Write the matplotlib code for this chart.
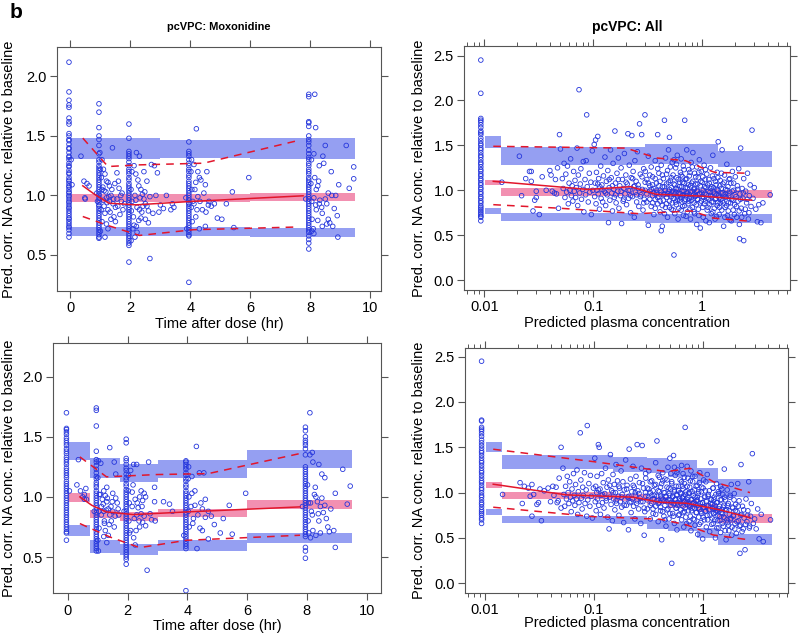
import numpy as np
import matplotlib.pyplot as plt
from matplotlib.ticker import LogLocator, NullFormatter

plt.rcParams['font.family'] = ['Liberation Sans', 'DejaVu Sans']

W, H = 798, 635
PT_COL = '#2536dc'
BAND_BLUE = '#959ff2'
BAND_PINK = '#f290b1'
RED = '#e2162c'
FRAME = '#555555'

# ---------------- top-left: pcVPC Moxonidine (time) ----------------
tl_col_x = [-0.05, 0.95, 1.95, 3.95, 7.95]
tl_col0 = [2.12, 1.87, 1.80, 1.76, 1.74, 1.65, 1.62, 1.60, 1.52, 1.50, 1.47, 1.46, 1.43, 1.40, 1.39,
           1.36, 1.33, 1.32, 1.30, 1.27, 1.25, 1.24, 1.21, 1.19, 1.18, 1.15, 1.13, 1.12, 1.10, 1.08,
           1.07, 1.05, 1.03, 1.02, 1.00, 0.99, 0.97, 0.95, 0.94, 0.92, 0.90, 0.89, 0.87, 0.85, 0.83,
           0.81, 0.80, 0.78, 0.76, 0.74, 0.73, 0.71, 0.68, 0.65]
tl_col1 = [1.77, 1.70, 1.57, 1.50, 1.47, 1.42, 1.35, 1.30, 1.28, 1.25, 1.23, 1.21, 1.19, 1.17, 1.15,
           1.13, 1.11, 1.09, 1.07, 1.05, 1.03, 1.01, 1.00, 0.98, 0.96, 0.94, 0.92, 0.91, 0.89, 0.87,
           0.85, 0.83, 0.81, 0.79, 0.77, 0.75, 0.73, 0.71, 0.69, 0.67, 0.65, 0.64]
tl_col2 = [1.60, 1.48, 1.37, 1.35, 1.33, 1.31, 1.28, 1.25, 1.22, 1.20, 1.18, 1.15, 1.13, 1.10, 1.08,
           1.06, 1.04, 1.02, 1.00, 0.98, 0.96, 0.94, 0.92, 0.90, 0.88, 0.86, 0.84, 0.82, 0.80, 0.78,
           0.76, 0.74, 0.72, 0.70, 0.68, 0.66, 0.64, 0.62, 0.60, 0.58, 0.44]
tl_col4 = [1.45, 1.37, 1.35, 1.33, 1.30, 1.27, 1.25, 1.22, 1.20, 1.17, 1.15, 1.12, 1.10, 1.08, 1.06,
           1.04, 1.02, 1.00, 0.98, 0.96, 0.94, 0.93, 0.91, 0.89, 0.87, 0.85, 0.83, 0.81, 0.79, 0.77,
           0.75, 0.73, 0.71, 0.69, 0.67, 0.66, 0.27]
tl_col8 = [1.85, 1.83, 1.62, 1.61, 1.58, 1.50, 1.47, 1.45, 1.42, 1.38, 1.35, 1.32, 1.30, 1.27, 1.25,
           1.22, 1.20, 1.18, 1.15, 1.13, 1.11, 1.09, 1.07, 1.05, 1.03, 1.01, 0.99, 0.97, 0.95, 0.93,
           0.91, 0.89, 0.87, 0.85, 0.83, 0.81, 0.79, 0.77, 0.75, 0.73, 0.71, 0.69, 0.66, 0.63, 0.60, 0.55]
tl_scatter = [
    (0.02, 1.30), (0.05, 1.09), (0.35, 1.33), (0.45, 1.12), (0.55, 1.10), (0.48, 0.98), (0.49, 0.97),
    (0.62, 1.08), (0.88, 1.02), (0.90, 0.95), (1.00, 1.22), (1.02, 0.88), (1.03, 1.15), (1.05, 0.78),
    (1.00, 0.70), (1.05, 1.05), (0.98, 1.36), (1.05, 1.30), (1.10, 1.22), (1.15, 1.18), (1.20, 1.12),
    (1.25, 1.11), (1.30, 1.08), (1.35, 1.00), (1.42, 0.93), (1.50, 0.90), (1.45, 0.82), (1.50, 0.78),
    (1.55, 1.19), (1.60, 1.12), (1.70, 0.95), (1.75, 0.88), (1.65, 0.84), (1.40, 1.40), (1.20, 0.76),
    (1.15, 0.65), (1.30, 0.95), (1.25, 0.88), (1.55, 0.97), (1.62, 1.06), (1.72, 1.02), (1.80, 0.93),
    (1.10, 0.96), (1.15, 0.85), (1.20, 0.98), (1.35, 0.80), (1.25, 0.72), (1.12, 1.04),
    (2.02, 1.05), (2.05, 0.95), (2.03, 0.87), (2.05, 1.20), (2.08, 0.72), (2.02, 0.62),
    (2.12, 1.25), (2.20, 1.36), (2.30, 1.33), (2.25, 1.13), (2.35, 1.05), (2.40, 1.01), (2.45, 0.97),
    (2.50, 0.93), (2.30, 0.88), (2.35, 0.81), (2.20, 0.74), (2.15, 0.65), (2.60, 0.87), (2.55, 1.12),
    (2.70, 1.26), (2.80, 1.25), (2.90, 1.19), (2.85, 1.00), (2.95, 0.86), (2.75, 0.85), (2.65, 0.47),
    (2.22, 0.69), (3.20, 1.00), (3.40, 0.93), (3.45, 0.90), (3.10, 0.89), (2.50, 0.80), (2.60, 0.77),
    (3.00, 0.92), (2.10, 0.82), (2.12, 0.75), (2.42, 0.91), (2.18, 0.96), (2.28, 1.08), (2.65, 0.99),
    (3.35, 0.88), (4.02, 1.20), (4.05, 1.05), (4.03, 0.90), (4.06, 0.78), (4.04, 1.30), (4.08, 0.95),
    (3.88, 0.72), (3.85, 0.98), (4.12, 1.26), (4.20, 1.56), (4.30, 1.15), (4.35, 1.13), (4.50, 1.09),
    (4.55, 1.20), (4.60, 0.92), (4.70, 0.91), (4.80, 0.93), (4.90, 0.81), (5.05, 0.80), (5.20, 0.93),
    (5.40, 1.03), (5.45, 0.73), (5.95, 1.15), (4.50, 0.74), (4.30, 0.72), (4.15, 1.05), (4.25, 0.99),
    (4.40, 0.88), (4.62, 0.95), (4.52, 0.86), (4.32, 0.95), (4.22, 0.88), (4.18, 1.11),
    (8.02, 1.10), (8.05, 0.95), (8.04, 1.30), (8.06, 0.80), (7.85, 0.97), (8.05, 0.70),
    (8.12, 1.35), (8.18, 1.57), (8.15, 1.85), (8.30, 1.25), (8.42, 1.33), (8.45, 1.27), (8.50, 1.42),
    (8.60, 1.02), (8.70, 1.20), (8.50, 0.97), (8.55, 0.93), (8.60, 0.80), (8.80, 0.89), (8.90, 0.83),
    (8.95, 1.09), (9.20, 1.42), (9.45, 1.24), (9.45, 1.14), (9.30, 1.06), (8.92, 0.65), (8.75, 0.74),
    (8.40, 0.85), (8.30, 0.93), (8.20, 1.05), (8.40, 0.74), (8.55, 0.76), (8.65, 0.77), (8.72, 1.00),
    (8.20, 0.88), (8.25, 0.79), (8.12, 0.68), (8.10, 0.72), (8.85, 1.00), (8.32, 0.96), (8.25, 1.08),
    (8.15, 1.15),
    (1.08, 1.07), (1.12, 0.91), (1.18, 1.03), (1.22, 0.94), (1.28, 0.99), (1.32, 0.86), (1.38, 1.05),
    (1.44, 0.97), (1.48, 1.10), (1.58, 0.91), (1.68, 1.00), (2.15, 1.00), (2.22, 0.90), (2.32, 0.98),
    (2.38, 0.86), (2.48, 1.03), (2.55, 0.91), (2.18, 1.18), (2.28, 0.79), (2.45, 1.20), (4.12, 0.93),
    (4.18, 0.82), (4.25, 1.20), (4.45, 1.02), (8.12, 0.98), (8.18, 0.92), (8.28, 1.12), (8.38, 0.90)]
tl_bin_edges = [0.0, 3.0, 6.0, 9.5]
tl_hi_lo = [1.305, 1.316, 1.310]
tl_hi_hi = [1.482, 1.468, 1.482]
tl_md_lo = [0.946, 0.946, 0.957]
tl_md_hi = [1.013, 1.013, 1.024]
tl_lo_lo = [0.660, 0.660, 0.649]
tl_lo_hi = [0.738, 0.738, 0.730]
tl_med_x = [0.41, 0.8, 1.28, 2.19, 3.99, 7.76]
tl_med_y = [1.081, 1.01, 0.935, 0.921, 0.949, 0.997]
tl_p95_x = [0.41, 1.25, 2.3, 4.44, 7.6]
tl_p95_y = [1.482, 1.243, 1.257, 1.271, 1.462]
tl_p05_x = [0.41, 1.28, 2.3, 4.1, 7.6]
tl_p05_y = [0.823, 0.745, 0.664, 0.712, 0.735]

# ---------------- bottom-left ----------------
bl_col_x = [-0.05, 0.95, 1.95, 3.95, 7.95]
bl_col0 = [1.70, 1.57, 1.56, 1.54, 1.52, 1.49, 1.47, 1.45, 1.43, 1.40, 1.38, 1.36, 1.33, 1.31, 1.29,
           1.27, 1.24, 1.22, 1.20, 1.18, 1.16, 1.13, 1.11, 1.09, 1.07, 1.05, 1.03, 1.01, 0.99, 0.97,
           0.95, 0.93, 0.91, 0.89, 0.87, 0.85, 0.83, 0.81, 0.79, 0.77, 0.75, 0.73, 0.71, 0.70, 0.64]
bl_col1 = [1.74, 1.72, 1.59, 1.38, 1.31, 1.29, 1.26, 1.23, 1.20, 1.17, 1.15, 1.12, 1.10, 1.08, 1.05,
           1.03, 1.01, 0.99, 0.97, 0.95, 0.93, 0.91, 0.89, 0.87, 0.85, 0.83, 0.81, 0.79, 0.77, 0.75,
           0.73, 0.71, 0.69, 0.67, 0.65, 0.63, 0.61, 0.59, 0.57, 0.55]
bl_col2 = [1.48, 1.45, 1.32, 1.30, 1.27, 1.24, 1.22, 1.19, 1.16, 1.14, 1.11, 1.09, 1.06, 1.04, 1.02,
           1.00, 0.98, 0.96, 0.94, 0.92, 0.90, 0.88, 0.86, 0.84, 0.82, 0.80, 0.78, 0.76, 0.74, 0.72,
           0.70, 0.68, 0.66, 0.64, 0.62, 0.60, 0.58, 0.56, 0.54, 0.52, 0.50, 0.48, 0.44]
bl_col4 = [1.30, 1.29, 1.27, 1.25, 1.23, 1.20, 1.18, 1.15, 1.13, 1.10, 1.08, 1.05, 1.03, 1.01, 0.99,
           0.97, 0.95, 0.93, 0.91, 0.89, 0.87, 0.85, 0.83, 0.81, 0.79, 0.77, 0.75, 0.73, 0.71, 0.69,
           0.67, 0.65, 0.63, 0.61, 0.59, 0.57, 0.22]
bl_col8 = [1.58, 1.55, 1.50, 1.47, 1.45, 1.43, 1.40, 1.35, 1.25, 1.23, 1.21, 1.19, 1.17, 1.15, 1.13,
           1.11, 1.09, 1.07, 1.05, 1.03, 1.01, 0.99, 0.97, 0.95, 0.93, 0.91, 0.89, 0.87, 0.85, 0.83,
           0.81, 0.79, 0.77, 0.75, 0.73, 0.71, 0.69, 0.67, 0.58, 0.55, 0.49]
bl_scatter = [
    (0.35, 1.31), (0.42, 1.05), (0.50, 1.00), (0.55, 1.02), (0.60, 1.07), (0.55, 0.98), (0.30, 1.10),
    (0.62, 0.98), (0.05, 1.05), (1.02, 1.30), (1.00, 1.16), (1.05, 1.02), (1.03, 0.88), (1.04, 0.74),
    (1.00, 0.64), (0.88, 0.88), (1.02, 0.55), (1.10, 1.28), (1.20, 1.05), (1.30, 1.08), (1.40, 1.41),
    (1.55, 1.29), (1.60, 1.19), (1.30, 0.96), (1.35, 0.90), (1.50, 0.88), (1.45, 0.80), (1.25, 0.72),
    (1.20, 0.67), (1.50, 1.03), (1.65, 0.95), (1.70, 0.85), (1.20, 0.88), (1.30, 0.62), (1.40, 0.85),
    (1.15, 0.98), (1.25, 1.01), (1.12, 0.92), (1.60, 0.99), (1.55, 0.75), (1.35, 0.68), (1.22, 0.80),
    (2.02, 1.05), (2.05, 0.95), (2.04, 0.80), (2.06, 0.70), (2.02, 1.18), (1.88, 0.88),
    (2.10, 1.22), (2.20, 1.27), (2.30, 1.27), (2.70, 1.29), (2.40, 1.00), (2.50, 0.97), (2.60, 1.00),
    (2.90, 1.08), (2.90, 0.96), (2.30, 0.85), (2.50, 0.79), (2.60, 0.76), (2.65, 0.39), (2.20, 0.66),
    (2.40, 0.75), (3.20, 0.96), (3.40, 0.94), (3.50, 0.88), (2.80, 0.81), (2.92, 0.80), (2.10, 0.72),
    (2.25, 0.98), (2.35, 0.91), (2.15, 1.04), (2.45, 0.86), (2.75, 0.86), (2.55, 1.03), (2.25, 0.60),
    (4.02, 1.15), (4.05, 1.00), (4.03, 0.88), (4.06, 0.75), (4.04, 1.25), (3.88, 0.68),
    (4.15, 1.17), (4.30, 1.42), (4.40, 1.20), (4.55, 1.20), (4.50, 0.90), (4.60, 0.98), (4.70, 0.88),
    (4.80, 0.84), (4.90, 0.77), (5.10, 0.70), (5.20, 0.82), (5.40, 0.93), (5.50, 0.69), (5.95, 1.03),
    (4.32, 0.57), (4.50, 0.72), (4.20, 0.82), (4.35, 0.85), (4.70, 0.65), (4.42, 0.74), (4.25, 0.93),
    (4.15, 1.03), (4.60, 0.83), (8.02, 1.10), (8.05, 0.95), (8.04, 0.80), (8.06, 0.70), (7.85, 0.92),
    (8.10, 1.35), (8.18, 1.37), (8.20, 1.29), (8.10, 1.70), (8.50, 1.19), (8.60, 1.16), (8.40, 1.27),
    (8.30, 1.00), (8.45, 0.92), (8.55, 0.87), (8.65, 0.82), (8.70, 0.75), (8.80, 0.90), (8.90, 0.72),
    (8.95, 1.03), (8.95, 0.58), (9.20, 1.23), (9.45, 1.09), (9.35, 0.94), (8.20, 0.72), (8.30, 0.68),
    (8.40, 0.80), (8.75, 0.71), (8.25, 1.02), (8.35, 0.96), (8.15, 0.88), (8.50, 0.99), (8.60, 0.93),
    (8.12, 0.66), (8.45, 0.70),
    (1.08, 1.02), (1.12, 0.85), (1.18, 0.94), (1.22, 0.78), (1.28, 0.89), (1.32, 0.99), (1.38, 0.77),
    (1.44, 0.92), (1.48, 0.96), (1.58, 0.84), (1.68, 0.90), (2.15, 0.92), (2.22, 0.82), (2.32, 0.95),
    (2.38, 0.80), (2.48, 0.92), (2.55, 0.84), (2.18, 1.10), (2.28, 0.72), (2.45, 1.05), (4.12, 0.92),
    (4.18, 0.78), (4.25, 1.05), (4.45, 0.95), (8.12, 0.95), (8.18, 0.85), (8.28, 1.08), (8.38, 0.86)]
bl_bin_edges = [0.0, 0.75, 1.75, 3.0, 6.0, 9.5]
bl_hi_lo = [1.310, 1.161, 1.128, 1.161, 1.242]
bl_hi_hi = [1.456, 1.325, 1.275, 1.306, 1.394]
bl_md_lo = [0.960, 0.828, 0.797, 0.830, 0.897]
bl_md_hi = [1.030, 0.894, 0.878, 0.897, 0.972]
bl_lo_lo = [0.675, 0.536, 0.514, 0.550, 0.619]
bl_lo_hi = [0.764, 0.639, 0.611, 0.639, 0.703]
bl_med_x = [0.40, 0.8, 1.29, 2.19, 3.97, 7.77]
bl_med_y = [1.000, 0.93, 0.875, 0.853, 0.875, 0.917]
bl_p95_x = [0.40, 1.29, 2.97, 4.7, 7.77]
bl_p95_y = [1.333, 1.167, 1.186, 1.194, 1.361]
bl_p05_x = [0.40, 1.4, 2.4, 3.97, 7.77]
bl_p05_y = [0.778, 0.667, 0.578, 0.639, 0.681]

# ---------------- top-right: pcVPC All (concentration) ----------------
base_conc = 0.0093
tr_base = [2.45, 2.08, 1.80, 1.78, 1.76, 1.73, 1.70, 1.66, 1.64, 1.62, 1.58, 1.55, 1.52, 1.50, 1.47,
           1.45, 1.42, 1.39, 1.37, 1.34, 1.31, 1.29, 1.26, 1.23, 1.21, 1.18, 1.16, 1.13, 1.11, 1.08,
           1.06, 1.03, 1.01, 0.98, 0.96, 0.93, 0.91, 0.88, 0.86, 0.83, 0.81, 0.79, 0.77, 0.75, 0.73,
           0.71, 0.70, 0.66]
tr_scatter = [
    (0.0145, 1.09), (0.021, 1.38), (0.022, 0.94), (0.024, 1.13), (0.026, 1.21), (0.027, 1.21),
    (0.027, 1.10), (0.028, 0.77), (0.029, 0.89), (0.030, 0.92), (0.030, 0.99), (0.032, 0.73),
    (0.034, 1.15), (0.037, 1.00), (0.040, 1.22), (0.041, 1.17), (0.042, 0.99), (0.044, 0.97),
    (0.045, 1.12), (0.047, 1.25), (0.048, 0.80), (0.049, 1.62), (0.050, 1.46), (0.046, 0.96),
    (0.052, 1.13), (0.053, 1.02), (0.054, 1.30), (0.055, 0.92), (0.056, 1.18), (0.057, 0.98),
    (0.058, 1.27), (0.059, 0.85), (0.060, 1.08), (0.061, 1.00), (0.062, 1.35), (0.063, 0.94),
    (0.064, 1.05), (0.065, 0.88), (0.066, 1.21), (0.067, 0.99), (0.068, 1.11), (0.069, 0.92),
    (0.070, 1.03), (0.071, 1.47), (0.072, 0.83), (0.073, 1.17), (0.074, 2.12), (0.075, 0.97),
    (0.076, 1.07), (0.077, 1.24), (0.078, 0.90), (0.080, 1.01), (0.081, 1.32), (0.082, 0.76),
    (0.084, 1.12), (0.085, 0.95), (0.086, 1.33), (0.087, 1.84), (0.088, 1.04), (0.090, 0.87),
    (0.092, 1.19), (0.093, 0.98), (0.095, 1.09), (0.096, 0.73), (0.098, 1.44), (0.099, 1.00),
    (0.102, 1.51), (0.103, 0.93), (0.104, 1.08), (0.105, 1.56), (0.106, 0.85), (0.107, 1.20),
    (0.108, 1.00), (0.110, 1.60), (0.111, 0.96), (0.112, 1.13), (0.114, 0.79), (0.115, 1.04),
    (0.117, 1.27), (0.118, 0.91), (0.120, 1.06), (0.122, 0.87), (0.124, 1.16), (0.126, 0.99),
    (0.128, 1.37), (0.130, 0.83), (0.132, 1.10), (0.134, 0.95), (0.136, 1.22), (0.138, 0.64),
    (0.140, 1.03), (0.142, 0.89), (0.144, 1.45), (0.146, 1.14), (0.148, 0.97), (0.150, 0.77),
    (0.152, 1.30), (0.154, 1.01), (0.156, 0.92), (0.158, 1.66), (0.160, 1.08), (0.162, 0.86),
    (0.165, 1.19), (0.168, 0.99), (0.170, 1.36), (0.172, 0.80), (0.175, 1.05), (0.178, 0.94),
    (0.180, 1.25), (0.182, 0.63), (0.185, 1.12), (0.188, 0.88), (0.190, 1.02), (0.193, 1.41),
    (0.196, 0.96), (0.199, 1.17), (0.202, 0.84), (0.205, 1.07), (0.208, 1.63), (0.211, 0.91),
    (0.214, 1.28), (0.217, 1.00), (0.220, 0.75), (0.223, 1.14), (0.226, 1.61), (0.229, 0.93),
    (0.232, 1.21), (0.235, 1.04), (0.238, 0.70), (0.241, 1.33), (0.244, 0.98), (0.247, 1.10),
    (0.250, 0.87), (0.254, 1.43), (0.258, 1.06), (0.262, 0.82), (0.266, 1.74), (0.270, 1.18),
    (0.274, 0.95), (0.278, 1.62), (0.282, 1.01), (0.286, 0.78), (0.290, 1.24), (0.294, 0.90),
    (0.298, 1.84), (0.299, 1.09),
    (0.31, 1.12), (0.31, 0.87), (0.32, 0.61), (0.32, 1.38), (0.33, 0.99), (0.33, 1.05), (0.34, 0.82),
    (0.34, 1.26), (0.35, 0.94), (0.35, 1.15), (0.36, 0.73), (0.36, 1.02), (0.37, 1.33), (0.37, 0.90),
    (0.38, 1.08), (0.38, 0.97), (0.39, 1.62), (0.39, 0.85), (0.40, 1.19), (0.40, 0.93), (0.41, 1.00),
    (0.41, 0.76), (0.42, 0.55), (0.42, 1.28), (0.43, 0.60), (0.43, 1.04), (0.44, 0.89), (0.44, 1.13),
    (0.45, 1.78), (0.45, 0.96), (0.46, 1.36), (0.46, 0.81), (0.47, 1.07), (0.47, 0.92), (0.48, 1.22),
    (0.48, 0.70), (0.49, 0.99), (0.49, 1.45), (0.50, 1.59), (0.50, 0.88), (0.51, 1.11), (0.51, 0.95),
    (0.52, 0.79), (0.52, 1.03), (0.53, 1.31), (0.53, 0.86), (0.54, 0.97), (0.54, 1.17), (0.55, 0.28),
    (0.55, 0.91), (0.56, 1.06), (0.56, 0.74), (0.57, 1.25), (0.57, 0.98), (0.58, 0.84), (0.58, 1.14),
    (0.59, 0.93), (0.59, 1.39), (0.60, 1.01), (0.60, 0.68), (0.62, 1.09), (0.62, 0.89), (0.63, 1.20),
    (0.63, 0.96), (0.64, 0.78), (0.64, 1.35), (0.65, 1.04), (0.65, 0.87), (0.66, 1.15), (0.66, 0.94),
    (0.67, 0.72), (0.67, 1.27), (0.68, 0.99), (0.68, 1.08), (0.69, 1.78), (0.69, 0.83), (0.70, 1.12),
    (0.70, 0.90), (0.72, 1.45), (0.72, 0.97), (0.73, 0.76), (0.73, 1.03), (0.75, 1.23), (0.75, 0.88),
    (0.76, 0.95), (0.76, 1.16), (0.78, 0.68), (0.78, 1.05), (0.79, 1.31), (0.79, 0.92), (0.81, 0.99),
    (0.81, 0.81), (0.82, 1.10), (0.82, 1.42), (0.84, 0.86), (0.84, 1.01), (0.85, 0.74), (0.85, 1.19),
    (0.87, 0.94), (0.87, 1.07), (0.89, 0.62), (0.89, 1.26), (0.90, 0.90), (0.90, 1.00), (0.92, 1.14),
    (0.92, 0.79), (0.94, 0.96), (0.94, 1.34), (0.96, 0.58), (0.96, 1.05), (0.98, 0.88), (0.98, 1.21),
    (1.00, 0.93), (1.00, 1.09), (1.02, 0.70), (1.02, 1.00), (1.04, 1.28), (1.04, 0.85), (1.06, 0.97),
    (1.06, 1.12), (1.08, 0.66), (1.08, 1.03), (1.10, 0.91), (1.10, 1.18), (1.13, 0.81), (1.13, 0.99),
    (1.16, 1.08), (1.16, 0.64), (1.19, 1.25), (1.19, 0.94), (1.22, 0.87), (1.22, 1.04), (1.25, 1.39),
    (1.25, 0.76), (1.28, 0.98), (1.28, 1.13), (1.31, 0.90), (1.31, 0.68), (1.34, 1.06), (1.34, 0.95),
    (1.37, 1.20), (1.37, 0.83), (1.40, 1.54), (1.40, 1.00), (1.43, 0.73), (1.43, 0.92), (1.46, 1.11),
    (1.46, 0.86), (1.49, 1.02), (1.49, 0.97),
    (1.52, 1.45), (1.53, 0.88), (1.55, 1.07), (1.57, 0.60), (1.58, 0.95), (1.60, 1.17), (1.62, 0.81),
    (1.64, 1.01), (1.66, 0.92), (1.68, 1.29), (1.70, 0.72), (1.72, 1.04), (1.74, 0.86), (1.76, 1.12),
    (1.78, 0.97), (1.80, 0.67), (1.83, 1.08), (1.86, 0.90), (1.89, 1.21), (1.92, 0.78), (1.95, 1.00),
    (1.98, 0.84), (2.01, 1.15), (2.04, 0.93), (2.07, 0.70), (2.10, 1.05), (2.13, 0.88), (2.16, 1.24),
    (2.19, 0.62), (2.22, 0.96), (2.25, 1.47), (2.20, 0.46), (2.40, 0.44), (2.28, 0.80), (2.32, 1.02),
    (2.36, 0.91), (2.40, 1.13), (2.45, 0.74), (2.50, 0.99), (2.55, 0.86), (2.60, 1.19), (2.65, 0.68),
    (2.70, 0.94), (2.75, 1.06), (2.80, 0.82), (2.86, 1.67), (2.92, 0.91), (3.00, 1.03), (3.10, 0.79),
    (3.20, 0.65), (3.30, 0.84), (3.45, 0.64), (3.60, 0.86), (4.20, 0.95)]
tr_dense = [
    (0.26, 1.02), (0.27, 0.93), (0.28, 1.15), (0.29, 0.86), (0.30, 1.00), (0.30, 1.21), (0.31, 0.96),
    (0.32, 1.08), (0.33, 0.90), (0.33, 1.17), (0.34, 1.01), (0.35, 0.86), (0.35, 1.06), (0.36, 0.97),
    (0.37, 1.13), (0.37, 0.80), (0.38, 1.00), (0.39, 0.92), (0.39, 1.24), (0.40, 1.05), (0.41, 0.88),
    (0.41, 1.10), (0.42, 0.98), (0.43, 0.83), (0.43, 1.17), (0.44, 0.95), (0.45, 1.04), (0.45, 0.74),
    (0.46, 1.00), (0.47, 1.18), (0.47, 0.85), (0.48, 0.96), (0.49, 1.09), (0.50, 0.81), (0.50, 1.01),
    (0.51, 1.26), (0.52, 0.93), (0.52, 1.14), (0.53, 0.99), (0.54, 0.78), (0.55, 1.07), (0.55, 1.34),
    (0.56, 0.96), (0.57, 0.87), (0.58, 1.02), (0.58, 1.29), (0.59, 0.90), (0.60, 1.12), (0.61, 0.97),
    (0.61, 0.80), (0.62, 1.04), (0.63, 0.92), (0.64, 1.17), (0.65, 0.99), (0.66, 0.82), (0.66, 1.09),
    (0.67, 0.95), (0.68, 1.23), (0.69, 0.88), (0.70, 1.03), (0.71, 0.94), (0.71, 0.71), (0.72, 1.13),
    (0.73, 0.97), (0.74, 0.85), (0.75, 1.06), (0.76, 0.91), (0.77, 1.20), (0.77, 0.79), (0.78, 0.98),
    (0.80, 1.08), (0.80, 0.89), (0.81, 1.26), (0.83, 0.95), (0.84, 0.76), (0.85, 1.02), (0.86, 0.93),
    (0.87, 1.15), (0.88, 0.84), (0.89, 0.99), (0.91, 1.07), (0.91, 0.90), (0.93, 0.72), (0.93, 1.20),
    (0.95, 0.96), (0.96, 0.86), (0.97, 1.10), (0.99, 0.97), (1.01, 0.81), (1.01, 1.15), (1.03, 0.92),
    (1.05, 1.04), (1.07, 0.88), (1.07, 1.23), (1.09, 0.95), (1.11, 0.78), (1.12, 1.06), (1.14, 0.90),
    (1.15, 1.12), (1.17, 0.84), (1.18, 0.98), (1.20, 1.02), (1.21, 0.74), (1.23, 0.93), (1.24, 1.16),
    (1.26, 0.87), (1.27, 1.03), (1.29, 0.80), (1.30, 0.96), (1.32, 1.10), (1.33, 0.91), (1.35, 0.71),
    (1.36, 1.01), (1.38, 0.86), (1.39, 1.14), (1.41, 0.94), (1.44, 0.81), (1.45, 1.05), (1.48, 0.90),
    (1.50, 1.19), (1.51, 0.78), (1.54, 0.97), (1.56, 0.86), (1.59, 1.09), (1.61, 0.70), (1.63, 0.93),
    (1.67, 0.83), (1.69, 1.00), (1.73, 0.77), (1.75, 0.94), (1.79, 1.13), (1.82, 0.86), (1.85, 0.66),
    (1.88, 0.99), (1.91, 0.89), (1.94, 1.08), (1.97, 0.73), (2.00, 0.95), (2.06, 0.82), (2.12, 1.01),
    (2.18, 0.77), (2.24, 0.90), (2.30, 0.70), (2.38, 0.97), (2.48, 0.79), (2.58, 0.90), (2.68, 0.75),
    (0.15, 1.05), (0.16, 0.95), (0.17, 1.12), (0.18, 0.99), (0.19, 0.90), (0.20, 1.09), (0.21, 1.00),
    (0.22, 0.94), (0.23, 1.13), (0.24, 1.05), (0.25, 0.95), (0.12, 1.01), (0.13, 0.97), (0.14, 1.12),
    (0.11, 1.07)]
tr_bin_edges = [0.0101, 0.0141, 0.298, 1.40, 4.33]
tr_hi_lo = [1.472, 1.280, 1.290, 1.260]
tr_hi_hi = [1.609, 1.480, 1.511, 1.440]
tr_md_lo = [1.054, 0.940, 0.928, 0.917]
tr_md_hi = [1.113, 1.022, 1.010, 1.005]
tr_lo_lo = [0.740, 0.660, 0.640, 0.640]
tr_lo_hi = [0.800, 0.750, 0.740, 0.735]
tr_med_x = [0.0121, 0.09, 0.22, 0.38, 1.0, 2.84]
tr_med_y = [1.10, 1.01, 1.04, 0.955, 0.935, 0.89]
tr_p95_x = [0.0121, 0.2, 0.38, 0.7, 1.0, 1.3, 2.6]
tr_p95_y = [1.49, 1.47, 1.36, 1.33, 1.25, 1.20, 1.19]
tr_p05_x = [0.0121, 0.05, 0.26, 0.8, 1.27, 2.75]
tr_p05_y = [0.84, 0.80, 0.74, 0.77, 0.69, 0.655]

# ---------------- bottom-right ----------------
br_base = [2.45, 1.80, 1.79, 1.72, 1.70, 1.68, 1.65, 1.62, 1.58, 1.55, 1.52, 1.49, 1.46, 1.44, 1.41,
           1.38, 1.35, 1.33, 1.30, 1.27, 1.24, 1.22, 1.19, 1.16, 1.13, 1.11, 1.08, 1.05, 1.03, 1.00,
           0.97, 0.95, 0.92, 0.89, 0.87, 0.84, 0.81, 0.79, 0.77, 0.75, 0.72, 0.70, 0.66]
br_scatter = [
    (0.0145, 0.98), (0.021, 1.11), (0.022, 0.88), (0.023, 1.07), (0.025, 1.05), (0.026, 0.96),
    (0.027, 1.09), (0.027, 0.74), (0.028, 0.98), (0.030, 0.87), (0.031, 0.89), (0.032, 1.04),
    (0.033, 0.69), (0.035, 1.02), (0.038, 1.05), (0.040, 0.90), (0.042, 1.07), (0.043, 0.97),
    (0.045, 1.06), (0.046, 0.89), (0.048, 1.16), (0.050, 1.50), (0.050, 0.83), (0.047, 0.91),
    (0.052, 1.27), (0.053, 0.98), (0.054, 0.85), (0.055, 1.07), (0.056, 0.93), (0.057, 1.18),
    (0.058, 1.00), (0.059, 0.88), (0.060, 1.12), (0.061, 0.95), (0.062, 0.79), (0.063, 1.04),
    (0.064, 0.91), (0.065, 1.21), (0.066, 0.97), (0.067, 0.86), (0.068, 1.09), (0.069, 0.93),
    (0.070, 1.25), (0.071, 0.76), (0.072, 1.01), (0.073, 0.89), (0.075, 1.66), (0.076, 1.14),
    (0.077, 0.94), (0.078, 0.82), (0.079, 1.06), (0.080, 0.97), (0.082, 1.22), (0.083, 0.88),
    (0.085, 1.03), (0.086, 0.74), (0.087, 1.74), (0.088, 0.92), (0.090, 1.10), (0.092, 0.85),
    (0.093, 1.19), (0.095, 0.96), (0.097, 0.72), (0.099, 1.05),
    (0.102, 1.38), (0.103, 0.90), (0.104, 1.07), (0.105, 0.80), (0.106, 1.00), (0.107, 1.18),
    (0.108, 0.93), (0.110, 1.53), (0.111, 0.86), (0.112, 1.50), (0.114, 1.04), (0.115, 0.76),
    (0.117, 0.97), (0.118, 1.21), (0.120, 0.89), (0.122, 1.11), (0.124, 0.83), (0.126, 0.99),
    (0.128, 1.27), (0.130, 0.91), (0.132, 1.06), (0.134, 0.73), (0.136, 1.14), (0.138, 0.60),
    (0.140, 0.95), (0.142, 1.42), (0.144, 0.87), (0.146, 1.02), (0.148, 0.69), (0.150, 1.20),
    (0.152, 0.93), (0.154, 1.09), (0.156, 0.81), (0.158, 1.00), (0.160, 1.31), (0.162, 0.88),
    (0.165, 1.13), (0.168, 0.96), (0.170, 0.75), (0.172, 1.05), (0.175, 0.90), (0.178, 1.24),
    (0.180, 0.84), (0.182, 0.98), (0.185, 1.12), (0.188, 0.67), (0.190, 1.03), (0.193, 0.92),
    (0.196, 1.36), (0.199, 0.86), (0.202, 1.08), (0.205, 0.95), (0.208, 0.59), (0.211, 1.48),
    (0.214, 0.89), (0.217, 1.15), (0.220, 0.78), (0.223, 1.01), (0.226, 0.93), (0.229, 1.29),
    (0.232, 0.85), (0.235, 1.06), (0.238, 0.71), (0.241, 0.97), (0.244, 1.18), (0.247, 0.88),
    (0.250, 1.53), (0.254, 1.02), (0.258, 0.82), (0.262, 1.11), (0.266, 0.94), (0.270, 0.66),
    (0.274, 1.27), (0.278, 1.52), (0.282, 0.90), (0.286, 1.05), (0.290, 0.53), (0.294, 0.79),
    (0.298, 1.00), (0.299, 1.21),
    (0.31, 1.05), (0.31, 0.82), (0.32, 0.95), (0.32, 1.24), (0.33, 0.71), (0.33, 1.00), (0.34, 0.88),
    (0.34, 1.13), (0.35, 0.93), (0.35, 0.77), (0.36, 1.08), (0.36, 0.97), (0.37, 1.33), (0.37, 0.85),
    (0.38, 1.57), (0.38, 0.91), (0.39, 1.02), (0.39, 0.68), (0.40, 1.17), (0.40, 0.89), (0.41, 0.96),
    (0.41, 0.80), (0.42, 0.48), (0.42, 1.10), (0.43, 0.93), (0.43, 1.22), (0.44, 0.74), (0.44, 1.00),
    (0.45, 0.86), (0.45, 1.15), (0.46, 0.95), (0.46, 0.63), (0.47, 1.06), (0.47, 0.90), (0.48, 1.28),
    (0.48, 0.82), (0.49, 0.99), (0.49, 0.71), (0.50, 1.38), (0.50, 0.92), (0.51, 1.04), (0.51, 0.86),
    (0.52, 0.22), (0.52, 1.12), (0.53, 0.96), (0.53, 0.77), (0.54, 1.41), (0.54, 0.88), (0.55, 1.01),
    (0.55, 0.66), (0.56, 1.19), (0.56, 0.93), (0.57, 0.83), (0.57, 1.07), (0.58, 0.59), (0.58, 0.97),
    (0.59, 1.25), (0.59, 0.89), (0.60, 0.75), (0.60, 1.02), (0.62, 0.91), (0.62, 1.14), (0.63, 0.81),
    (0.63, 0.99), (0.64, 1.30), (0.64, 0.70), (0.65, 0.94), (0.65, 1.07), (0.66, 0.85), (0.66, 1.21),
    (0.67, 0.62), (0.67, 0.96), (0.68, 1.10), (0.68, 0.79), (0.69, 1.72), (0.69, 0.90), (0.70, 1.01),
    (0.70, 0.73), (0.72, 1.29), (0.72, 0.87), (0.73, 0.95), (0.73, 1.16), (0.75, 0.68), (0.75, 0.99),
    (0.76, 0.84), (0.76, 1.06), (0.78, 1.24), (0.78, 0.58), (0.79, 0.92), (0.79, 0.80), (0.81, 1.12),
    (0.81, 0.88), (0.82, 0.97), (0.82, 0.71), (0.84, 1.03), (0.84, 0.83), (0.85, 1.18), (0.85, 0.64),
    (0.87, 0.91), (0.87, 0.78), (0.89, 1.08), (0.89, 0.95), (0.90, 0.54), (0.90, 0.86), (0.92, 1.01),
    (0.92, 0.73), (0.94, 1.22), (0.94, 0.82), (0.96, 0.93), (0.96, 0.67), (0.98, 1.06), (0.98, 0.77),
    (1.00, 0.89), (1.00, 0.49), (1.02, 1.14), (1.02, 0.84), (1.04, 0.96), (1.04, 0.70), (1.06, 0.79),
    (1.06, 1.02), (1.08, 0.62), (1.08, 0.90), (1.10, 1.20), (1.10, 0.75), (1.13, 0.86), (1.13, 0.98),
    (1.16, 0.57), (1.16, 0.81), (1.19, 1.33), (1.19, 0.93), (1.22, 0.72), (1.22, 0.87), (1.25, 1.05),
    (1.25, 0.66), (1.28, 0.83), (1.28, 0.95), (1.31, 0.50), (1.31, 0.78), (1.34, 1.10), (1.34, 0.89),
    (1.37, 0.69), (1.37, 0.80), (1.40, 0.99), (1.40, 0.61), (1.43, 0.85), (1.43, 0.74), (1.46, 1.07),
    (1.46, 0.56), (1.49, 0.81), (1.49, 0.92),
    (1.52, 0.77), (1.53, 0.98), (1.55, 0.63), (1.57, 0.86), (1.58, 1.26), (1.60, 0.72), (1.62, 0.92),
    (1.64, 0.48), (1.66, 0.81), (1.68, 1.03), (1.70, 0.67), (1.72, 0.88), (1.74, 0.58), (1.76, 0.76),
    (1.78, 0.95), (1.80, 0.70), (1.83, 1.09), (1.86, 0.62), (1.89, 0.83), (1.92, 0.74), (1.95, 0.99),
    (1.98, 0.66), (2.01, 0.87), (2.04, 0.55), (2.07, 0.79), (2.10, 1.10), (2.13, 0.69), (2.16, 0.91),
    (2.20, 0.33), (2.22, 0.64), (2.25, 1.31), (2.28, 0.76), (2.32, 0.85), (2.36, 0.60), (2.40, 0.72),
    (2.45, 0.37), (2.50, 0.93), (2.55, 0.68), (2.60, 0.80), (2.65, 1.12), (2.70, 0.63), (2.75, 0.74),
    (2.80, 0.88), (2.86, 1.43), (2.92, 0.66), (3.00, 0.71), (3.10, 0.60), (3.20, 0.82), (3.30, 0.49),
    (3.45, 0.76), (3.60, 0.46), (4.20, 0.70)]
br_dense = [
    (0.26, 0.99), (0.27, 0.90), (0.28, 1.10), (0.29, 0.83), (0.30, 0.96), (0.30, 1.16), (0.31, 0.92),
    (0.32, 1.04), (0.33, 0.86), (0.33, 1.12), (0.34, 0.97), (0.35, 0.82), (0.35, 1.02), (0.36, 0.93),
    (0.37, 1.09), (0.37, 0.76), (0.38, 0.96), (0.39, 0.88), (0.39, 1.19), (0.40, 1.01), (0.41, 0.84),
    (0.41, 1.06), (0.42, 0.94), (0.43, 0.79), (0.43, 1.13), (0.44, 0.91), (0.45, 1.00), (0.45, 0.70),
    (0.46, 0.96), (0.47, 1.14), (0.47, 0.81), (0.48, 0.92), (0.49, 1.05), (0.50, 0.77), (0.50, 0.97),
    (0.51, 1.21), (0.52, 0.89), (0.52, 1.10), (0.53, 0.95), (0.54, 0.74), (0.55, 1.03), (0.55, 1.28),
    (0.56, 0.92), (0.57, 0.83), (0.58, 0.98), (0.58, 1.22), (0.59, 0.86), (0.60, 1.07), (0.61, 0.93),
    (0.61, 0.76), (0.62, 1.00), (0.63, 0.88), (0.64, 1.12), (0.65, 0.94), (0.66, 0.78), (0.66, 1.04),
    (0.67, 0.90), (0.68, 1.17), (0.69, 0.83), (0.70, 0.98), (0.71, 0.89), (0.71, 0.66), (0.72, 1.07),
    (0.73, 0.92), (0.74, 0.80), (0.75, 1.00), (0.76, 0.86), (0.77, 1.13), (0.77, 0.74), (0.78, 0.92),
    (0.80, 1.01), (0.80, 0.83), (0.81, 1.18), (0.83, 0.89), (0.84, 0.70), (0.85, 0.95), (0.86, 0.87),
    (0.87, 1.07), (0.88, 0.78), (0.89, 0.92), (0.91, 0.99), (0.91, 0.83), (0.93, 0.65), (0.93, 1.11),
    (0.95, 0.88), (0.96, 0.79), (0.97, 1.01), (0.99, 0.89), (1.01, 0.73), (1.01, 1.05), (1.03, 0.84),
    (1.05, 0.95), (1.07, 0.80), (1.07, 1.12), (1.09, 0.86), (1.11, 0.70), (1.12, 0.96), (1.14, 0.81),
    (1.15, 1.02), (1.17, 0.75), (1.18, 0.88), (1.20, 0.92), (1.21, 0.65), (1.23, 0.83), (1.24, 1.05),
    (1.26, 0.77), (1.27, 0.92), (1.29, 0.70), (1.30, 0.86), (1.32, 0.98), (1.33, 0.80), (1.35, 0.61),
    (1.36, 0.89), (1.38, 0.75), (1.39, 1.01), (1.41, 0.82), (1.44, 0.69), (1.45, 0.92), (1.48, 0.78),
    (1.50, 1.04), (1.51, 0.66), (1.54, 0.84), (1.56, 0.73), (1.59, 0.95), (1.61, 0.58), (1.63, 0.80),
    (1.67, 0.70), (1.69, 0.86), (1.73, 0.64), (1.75, 0.80), (1.79, 0.97), (1.82, 0.72), (1.85, 0.53),
    (1.88, 0.84), (1.91, 0.75), (1.94, 0.92), (1.97, 0.60), (2.00, 0.80), (2.06, 0.68), (2.12, 0.85),
    (2.18, 0.63), (2.24, 0.75), (2.30, 0.57), (2.38, 0.81), (2.48, 0.65), (2.58, 0.75), (2.68, 0.61),
    (0.15, 1.00), (0.16, 0.91), (0.17, 1.07), (0.18, 0.95), (0.19, 0.86), (0.20, 1.04), (0.21, 0.96),
    (0.22, 0.90), (0.23, 1.08), (0.24, 1.00), (0.25, 0.91), (0.12, 0.98), (0.13, 0.94), (0.14, 1.08),
    (0.11, 1.03)]
br_bin_edges = [0.0102, 0.0142, 0.15, 0.306, 0.483, 0.88, 1.39, 4.3]
br_hi_lo = [1.452, 1.258, 1.233, 1.215, 1.177, 1.104, 0.949]
br_hi_hi = [1.563, 1.416, 1.398, 1.379, 1.361, 1.269, 1.148]
br_md_lo = [1.055, 0.931, 0.910, 0.870, 0.830, 0.790, 0.669]
br_md_hi = [1.121, 1.011, 0.990, 0.950, 0.920, 0.880, 0.765]
br_lo_lo = [0.754, 0.662, 0.655, 0.600, 0.580, 0.500, 0.420]
br_lo_hi = [0.817, 0.746, 0.740, 0.700, 0.680, 0.610, 0.540]
br_med_x = [0.0119, 0.056, 0.23, 0.405, 0.713, 1.44, 2.72]
br_med_y = [1.093, 0.975, 0.95, 0.894, 0.883, 0.81, 0.724]
br_p95_x = [0.0119, 0.099, 0.467, 0.764, 1.25, 2.72]
br_p95_y = [1.479, 1.342, 1.232, 1.269, 1.121, 1.0]
br_p05_x = [0.0119, 0.099, 0.405, 0.713, 1.25, 2.72]
br_p05_y = [0.839, 0.735, 0.707, 0.644, 0.533, 0.478]


def px_axes(fig, left, top, right, bottom):
    return fig.add_axes([left / W, 1 - bottom / H, (right - left) / W, (bottom - top) / H])


def draw_bands(ax, edges, hi_lo, hi_hi, md_lo, md_hi, lo_lo, lo_hi):
    for i in range(len(edges) - 1):
        xs = [edges[i], edges[i + 1]]
        ax.fill_between(xs, hi_lo[i], hi_hi[i], color=BAND_BLUE, lw=0, zorder=1)
        ax.fill_between(xs, lo_lo[i], lo_hi[i], color=BAND_BLUE, lw=0, zorder=1)
        ax.fill_between(xs, md_lo[i], md_hi[i], color=BAND_PINK, lw=0, zorder=1)


def draw_points(ax, x, y):
    ax.scatter(x, y, s=11, facecolors='none', edgecolors=PT_COL, linewidths=0.6, zorder=2)


def draw_lines(ax, mx, my, ux, uy, lx, ly):
    ax.plot(mx, my, color=RED, lw=1.1, zorder=3)
    ax.plot(ux, uy, color=RED, lw=1.1, ls=(0, (5, 4)), zorder=3)
    ax.plot(lx, ly, color=RED, lw=1.1, ls=(0, (5, 4)), zorder=3)


def style(ax):
    for sp in ax.spines.values():
        sp.set_color(FRAME)
        sp.set_linewidth(0.8)
    ax.tick_params(which='both', direction='out', top=True, right=True, labeltop=False,
                   labelright=False, color=FRAME, labelcolor='black', labelsize=10.5, pad=2.5)
    ax.tick_params(which='major', length=5, width=0.8)
    ax.tick_params(which='minor', length=3, width=0.7)


fig = plt.figure(figsize=(W / 100, H / 100), dpi=100)

# left panels (time after dose)
left_panels = [
    (px_axes(fig, 57, 46.7, 381, 291), (-0.45, 10.36), (0.197, 2.25),
     tl_col_x, [tl_col0, tl_col1, tl_col2, tl_col4, tl_col8], tl_scatter,
     (tl_bin_edges, tl_hi_lo, tl_hi_hi, tl_md_lo, tl_md_hi, tl_lo_lo, tl_lo_hi),
     (tl_med_x, tl_med_y, tl_p95_x, tl_p95_y, tl_p05_x, tl_p05_y)),
    (px_axes(fig, 53.3, 342.7, 381, 593.3), (-0.49, 10.48), (0.198, 2.283),
     bl_col_x, [bl_col0, bl_col1, bl_col2, bl_col4, bl_col8], bl_scatter,
     (bl_bin_edges, bl_hi_lo, bl_hi_hi, bl_md_lo, bl_md_hi, bl_lo_lo, bl_lo_hi),
     (bl_med_x, bl_med_y, bl_p95_x, bl_p95_y, bl_p05_x, bl_p05_y)),
]
for ax, xl, yl, col_x, cols, scat, bands, lines in left_panels:
    draw_bands(ax, *bands)
    for cx, cy in zip(col_x, cols):
        draw_points(ax, [cx] * len(cy), cy)
    sx, sy = zip(*scat)
    draw_points(ax, sx, sy)
    draw_lines(ax, *lines)
    ax.set_xlim(*xl)
    ax.set_ylim(*yl)
    ax.set_xticks([0, 2, 4, 6, 8, 10])
    ax.set_yticks([0.5, 1.0, 1.5, 2.0])
    ax.set_yticklabels(['0.5', '1.0', '1.5', '2.0'])
    style(ax)

# right panels (predicted concentration, log scale)
right_panels = [
    (px_axes(fig, 464.3, 45.7, 790, 290), (0.00656, 6.38), (-0.11, 2.61), tr_base,
     tr_scatter + tr_dense,
     (tr_bin_edges, tr_hi_lo, tr_hi_hi, tr_md_lo, tr_md_hi, tr_lo_lo, tr_lo_hi),
     (tr_med_x, tr_med_y, tr_p95_x, tr_p95_y, tr_p05_x, tr_p05_y)),
    (px_axes(fig, 465, 347.7, 788, 592.7), (0.00655, 6.08), (-0.104, 2.599), br_base,
     br_scatter + br_dense,
     (br_bin_edges, br_hi_lo, br_hi_hi, br_md_lo, br_md_hi, br_lo_lo, br_lo_hi),
     (br_med_x, br_med_y, br_p95_x, br_p95_y, br_p05_x, br_p05_y)),
]
for ax, xl, yl, base, scat, bands, lines in right_panels:
    ax.set_xscale('log')
    draw_bands(ax, *bands)
    draw_points(ax, [base_conc] * len(base), base)
    sx, sy = zip(*scat)
    draw_points(ax, sx, sy)
    draw_lines(ax, *lines)
    ax.set_xlim(*xl)
    ax.set_ylim(*yl)
    ax.set_xticks([0.01, 0.1, 1])
    ax.set_xticklabels(['0.01', '0.1', '1'])
    ax.xaxis.set_minor_locator(LogLocator(base=10, subs=range(2, 10), numticks=20))
    ax.xaxis.set_minor_formatter(NullFormatter())
    ax.set_yticks([0.0, 0.5, 1.0, 1.5, 2.0, 2.5])
    ax.set_yticklabels(['0.0', '0.5', '1.0', '1.5', '2.0', '2.5'])
    style(ax)
    ax.tick_params(axis='y', which='minor', left=False, right=False)

ylab = 'Pred. corr. NA conc. relative to baseline'
fs = 10.5
fig.text(9 / W, 1 - 169 / H, ylab, rotation=90, ha='center', va='center', fontsize=fs)
fig.text(9 / W, 1 - 468 / H, ylab, rotation=90, ha='center', va='center', fontsize=fs)
fig.text(419 / W, 1 - 168 / H, ylab, rotation=90, ha='center', va='center', fontsize=fs)
fig.text(419 / W, 1 - 470 / H, ylab, rotation=90, ha='center', va='center', fontsize=fs)
fig.text(219 / W, 1 - 324 / H, 'Time after dose (hr)', ha='center', va='center', fontsize=fs)
fig.text(217 / W, 1 - 626 / H, 'Time after dose (hr)', ha='center', va='center', fontsize=fs)
fig.text(627 / W, 1 - 323 / H, 'Predicted plasma concentration', ha='center', va='center', fontsize=fs)
fig.text(627 / W, 1 - 623 / H, 'Predicted plasma concentration', ha='center', va='center', fontsize=fs)
fig.text(219 / W, 1 - 27 / H, 'pcVPC: Moxonidine', ha='center', va='center', fontsize=7.9,
         fontweight='bold')
fig.text(627 / W, 1 - 27 / H, 'pcVPC: All', ha='center', va='center', fontsize=10,
         fontweight='bold')
fig.text(16 / W, 1 - 13 / H, 'b', ha='center', va='center', fontsize=15, fontweight='bold')

fig.savefig('out.png', dpi=100)
